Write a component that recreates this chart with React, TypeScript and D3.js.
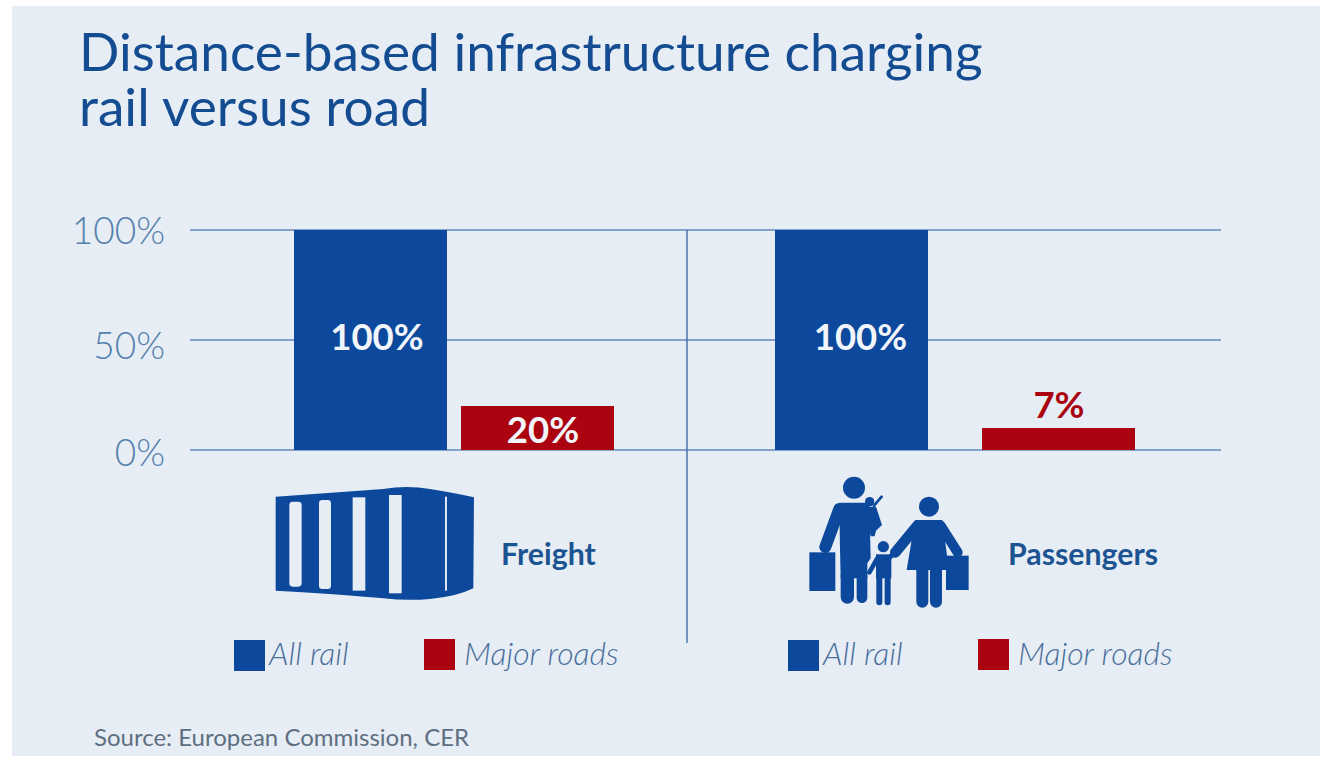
import { useEffect, useRef } from "react";
import * as d3 from "d3";

const panels = ["Freight", "Passengers"];
const railBars = [100, 100];
const roadBars = [20, 10];
const railLabels = ["100%", "100%"];
const roadLabels = ["20%", "7%"];
const yTicks = [0, 50, 100];
const legendNames = ["All rail", "Major roads"];

const BLUE = "#0c489b";
const RED = "#ab0410";
const LINE = "#6488b8";
const FONT = "Lato, sans-serif";

export default function App() {
  const svgRef = useRef<SVGSVGElement>(null);

  useEffect(() => {
    const svg = d3.select(svgRef.current);
    svg.selectAll("*").remove();

    svg.append("rect").attr("width", 1320).attr("height", 757).attr("fill", "#fff");
    svg.append("rect").attr("x", 12).attr("y", 6).attr("width", 1308).attr("height", 750).attr("fill", "#e6edf5");

    // title
    const title = svg.append("g").attr("font-family", FONT).attr("fill", "#144c92").attr("font-size", 53.2);
    title.append("text").attr("x", 79).attr("y", 71).text("Distance-based infrastructure charging");
    title.append("text").attr("x", 79).attr("y", 126).text("rail versus road");

    const y = d3.scaleLinear().domain([0, 100]).range([450, 230]);

    // grid and axis labels
    const tickNudge = [16, 19, 14];
    svg.append("g").selectAll("line").data(yTicks).join("line")
      .attr("x1", 190).attr("x2", 1221)
      .attr("y1", d => y(d)).attr("y2", d => y(d))
      .attr("stroke", LINE).attr("stroke-width", 1.6);
    svg.append("g").selectAll("text").data(yTicks).join("text")
      .attr("x", 165).attr("y", (d, i) => y(d) + tickNudge[i])
      .attr("text-anchor", "end")
      .attr("font-family", FONT).attr("font-weight", 300).attr("font-size", 37)
      .attr("fill", "#5580ad")
      .text(d => `${d}%`);
    svg.append("line").attr("x1", 687).attr("x2", 687).attr("y1", 230).attr("y2", 643)
      .attr("stroke", "#3f6fa8").attr("stroke-width", 1.4);

    // bars
    const railX = [294, 775];
    const roadX = [461, 982];
    const railTextX = [377, 860.5];
    const roadTextX = [543, 1059];
    const barW = 153;
    const bars = svg.append("g");
    panels.forEach((_, i) => {
      bars.append("rect").attr("x", railX[i]).attr("y", y(railBars[i])).attr("width", barW)
        .attr("height", y(0) - y(railBars[i])).attr("fill", BLUE);
      bars.append("rect").attr("x", roadX[i]).attr("y", y(roadBars[i])).attr("width", barW)
        .attr("height", y(0) - y(roadBars[i])).attr("fill", RED);
      bars.append("text").attr("x", railTextX[i]).attr("y", 350)
        .attr("text-anchor", "middle").attr("font-family", FONT).attr("font-weight", 700)
        .attr("font-size", 36.5).attr("fill", "#f2f6fb").text(railLabels[i]);
      bars.append("text").attr("x", roadTextX[i]).attr("y", i ? 418 : 443)
        .attr("text-anchor", "middle").attr("font-family", FONT).attr("font-weight", 700)
        .attr("font-size", 36.5).attr("fill", i ? RED : "#f2f6fb").text(roadLabels[i]);
    });

    // panel names
    const nameX = [501, 1008];
    svg.append("g").selectAll("text").data(panels).join("text")
      .attr("x", (_, i) => nameX[i]).attr("y", 565)
      .attr("font-family", FONT).attr("font-weight", 700).attr("font-size", 30.3)
      .attr("fill", "#1c5492")
      .text(d => d);

    // legends
    const legendRail = [234, 788];
    const legendRoad = [424, 978];
    panels.forEach((_, i) => {
      const g = svg.append("g").attr("font-family", FONT).attr("font-style", "italic")
        .attr("font-weight", 300).attr("font-size", 32).attr("fill", "#4b6f9c");
      g.append("rect").attr("x", legendRail[i]).attr("y", 640).attr("width", 31).attr("height", 31).attr("fill", BLUE);
      g.append("rect").attr("x", legendRoad[i]).attr("y", 639).attr("width", 31).attr("height", 31).attr("fill", RED);
      g.append("text").attr("x", legendRail[i] + 35).attr("y", 665).text(legendNames[0]);
      g.append("text").attr("x", legendRoad[i] + 40).attr("y", 665).text(legendNames[1]);
    });

    // source
    svg.append("text").attr("x", 94).attr("y", 746)
      .attr("font-family", FONT).attr("font-size", 24).attr("fill", "#5f6f82")
      .text("Source: European Commission, CER");

    // container icon, coordinates in 3x crop space
    const box = svg.append("g").attr("transform", "translate(250,470) scale(0.3333)");
    box.append("path").attr("fill", BLUE)
      .attr("d", "M77,80 L400,57 Q470,45 540,57 Q620,70 672,82 L670,355 Q620,380 540,387 Q470,393 400,385 Q300,375 77,362 Z");
    const slots = [[118, 95, 37, 255], [207, 90, 36, 267], [308, 82, 38, 280], [417, 75, 38, 295]];
    box.selectAll("rect.slot").data(slots).join("rect")
      .attr("class", "slot")
      .attr("x", d => d[0]).attr("y", d => d[1]).attr("width", d => d[2]).attr("height", d => d[3])
      .attr("rx", (_, i) => (i < 2 ? 10 : 0))
      .attr("fill", "#e6edf5");
    box.append("rect").attr("x", 585).attr("y", 80).attr("width", 6).attr("height", 282).attr("fill", "#dfe8f3");

    // family icon, same crop space
    const fam = svg.append("g").attr("transform", "translate(780,465) scale(0.3333)").attr("fill", BLUE);
    const limb = (d: string, w: number) =>
      fam.append("path").attr("d", d).attr("fill", "none").attr("stroke", BLUE)
        .attr("stroke-width", w).attr("stroke-linecap", "round").attr("stroke-linejoin", "round");
    // father
    fam.append("circle").attr("cx", 222).attr("cy", 68).attr("r", 33);
    fam.append("path").attr("d", "M178,113 L268,113 L272,280 L262,295 L262,340 L182,340 L180,250 Z");
    limb("M178,132 L136,246", 36);
    limb("M202,330 L202,396", 40);
    limb("M246,330 L246,398", 32);
    fam.append("rect").attr("x", 88).attr("y", 262).attr("width", 78).attr("height", 116);
    // baby
    fam.append("circle").attr("cx", 269).attr("cy", 110).attr("r", 14);
    fam.append("path").attr("d", "M252,125 L288,125 L306,180 L288,197 L284,214 L272,214 L262,170 Z");
    limb("M282,122 L305,95", 8);
    // child
    fam.append("circle").attr("cx", 310).attr("cy", 245).attr("r", 17);
    fam.append("path").attr("d", "M288,268 L334,268 L334,340 L288,340 Z");
    limb("M292,280 L268,322", 14);
    limb("M328,278 L352,258", 14);
    limb("M298,335 L298,412", 18);
    limb("M323,335 L323,412", 18);
    // mother
    fam.append("circle").attr("cx", 447).attr("cy", 125).attr("r", 30);
    fam.append("path").attr("d", "M405,165 L487,165 L507,315 L380,315 Z");
    limb("M412,182 L346,262", 32);
    limb("M482,182 L533,262", 30);
    limb("M427,310 L427,410", 36);
    limb("M468,310 L468,410", 36);
    fam.append("rect").attr("x", 498).attr("y", 272).attr("width", 68).attr("height", 103);
  }, []);

  return (
    <svg
      ref={svgRef}
      width={1320}
      height={757}
      style={{ position: "absolute", left: 0, top: 0, display: "block" }}
    />
  );
}
